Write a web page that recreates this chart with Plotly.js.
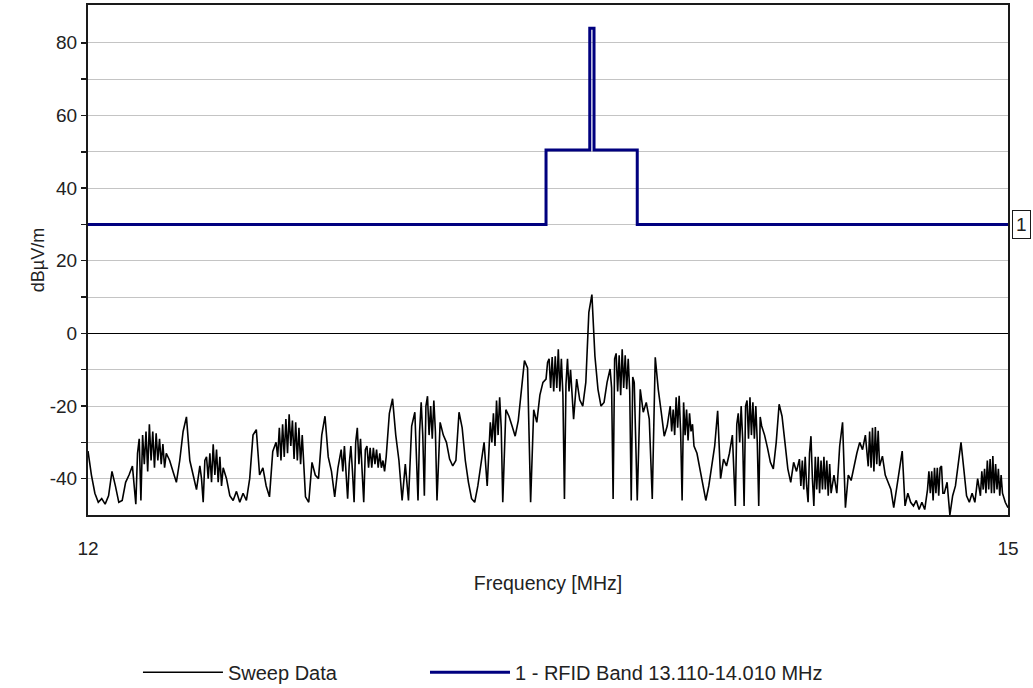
<!DOCTYPE html>
<html>
<head>
<meta charset="utf-8">
<script src="https://cdn.plot.ly/plotly-3.0.1.min.js"></script>
<style>html,body{margin:0;padding:0;background:#fff;}#chart{width:1033px;height:688px;}</style>
</head>
<body>
<div id="chart"></div>
<script>
// Sweep frequencies (MHz)
const sweepFreq = [
12.00,12.01,12.02,12.03,12.04,12.05,12.06,12.07,12.08,12.09,
12.10,12.11,12.12,12.13,12.14,12.145,12.15,12.155,12.16,12.165,12.17,12.175,12.18,12.185,12.19,12.195,
12.20,12.205,12.21,12.215,12.22,12.225,12.23,12.24,12.25,12.26,12.27,12.28,12.29,
12.30,12.31,12.32,12.33,12.335,12.34,12.345,12.35,12.355,12.36,12.365,12.37,12.375,12.38,12.385,12.39,12.395,
12.40,12.41,12.42,12.43,12.44,12.45,12.46,12.47,12.48,12.49,
12.50,12.51,12.52,12.53,12.54,12.55,12.56,12.565,12.57,12.575,12.58,12.585,12.59,12.595,
12.60,12.605,12.61,12.615,12.62,12.625,12.63,12.635,12.64,12.65,12.66,12.67,12.68,12.69,
12.70,12.71,12.72,12.73,12.74,12.75,12.76,12.765,12.77,12.775,12.78,12.785,12.79,12.795,
12.80,12.805,12.81,12.815,12.82,12.825,12.83,12.835,12.84,12.845,12.85,12.855,12.86,12.865,12.87,12.875,12.88,12.885,12.89,12.895,
12.90,12.91,12.92,12.93,12.94,12.95,12.96,12.97,12.98,12.99,
13.00,13.005,13.01,13.015,13.02,13.025,13.03,13.035,13.04,13.045,13.05,13.055,13.06,13.07,13.08,13.09,
13.10,13.11,13.12,13.13,13.14,13.15,13.16,13.17,13.18,13.19,
13.20,13.21,13.22,13.23,13.235,13.24,13.245,13.25,13.255,13.26,13.265,13.27,13.28,13.29,
13.30,13.31,13.32,13.33,13.34,13.35,13.36,13.37,13.38,13.39,
13.40,13.41,13.415,13.42,13.425,13.43,13.435,13.44,13.445,13.45,13.455,13.46,13.465,13.47,13.475,13.48,13.485,13.49,13.495,
13.50,13.51,13.52,13.53,13.54,13.55,13.56,13.57,13.58,13.59,
13.60,13.61,13.62,13.625,13.63,13.635,13.64,13.645,13.65,13.655,13.66,13.665,13.67,13.675,13.68,13.685,13.69,13.695,
13.70,13.71,13.72,13.73,13.74,13.75,13.76,13.77,13.78,13.79,
13.80,13.81,13.82,13.825,13.83,13.835,13.84,13.845,13.85,13.855,13.86,13.865,13.87,13.875,13.88,13.885,13.89,13.895,
13.90,13.91,13.92,13.93,13.94,13.95,13.96,13.97,13.98,13.99,
14.00,14.01,14.02,14.03,14.04,14.045,14.05,14.055,14.06,14.065,14.07,14.075,14.08,14.085,14.09,14.095,
14.10,14.105,14.11,14.115,14.12,14.125,14.13,14.14,14.15,14.16,14.17,14.18,14.19,
14.20,14.21,14.22,14.23,14.24,14.25,14.26,14.265,14.27,14.275,14.28,14.285,14.29,14.295,
14.30,14.305,14.31,14.315,14.32,14.325,14.33,14.335,14.34,14.345,14.35,14.355,14.36,14.365,14.37,14.38,14.39,
14.40,14.41,14.42,14.43,14.44,14.45,14.46,14.47,14.48,14.49,
14.50,14.505,14.51,14.515,14.52,14.525,14.53,14.535,14.54,14.55,14.56,14.57,14.58,14.59,
14.60,14.61,14.62,14.63,14.64,14.65,14.66,14.67,14.68,14.69,
14.70,14.71,14.715,14.72,14.725,14.73,14.735,14.74,14.745,14.75,14.755,14.76,14.765,14.77,14.78,14.79,
14.80,14.81,14.82,14.83,14.84,14.85,14.86,14.87,14.88,14.89,
14.90,14.905,14.91,14.915,14.92,14.925,14.93,14.935,14.94,14.945,14.95,14.955,14.96,14.965,14.97,14.975,14.98,14.99,15.00];

// Sweep levels (dBµV/m)
const sweepLevel = [
-32.4,-39,-44,-46.5,-45.5,-47,-44.7,-38,-42,-46.5,
-46,-41,-39,-36.5,-47,-33,-29,-46,-28,-36,-27,-38,-25,-35,-27,-37,
-27.5,-35,-29,-36,-30.5,-37,-33,-35,-38,-41,-35,-27,-23,
-35,-39,-43,-36.5,-40,-46.5,-35,-34,-40,-33,-41,-30.5,-39,-32,-41,-34,-42,
-37,-40,-44.7,-46,-43.5,-46.5,-44,-46,-40,-28,
-26.5,-39,-37,-42,-45,-32.5,-30,-34,-26,-35,-25,-34,-23.6,-33,
-22.3,-31,-24,-34.6,-24.5,-35,-26,-36,-28,-45,-46.5,-35.5,-39,-40,
-28,-22.8,-34,-38,-45,-37,-32,-38,-31,-39,-45.5,-36,-31,-38,
-46.5,-30,-26,-36,-29,-38,-46.5,-32,-31,-37,-31.5,-37,-31.5,-36,-32,-37,-33,-37,-35,-38,
-34,-22,-18,-28,-35,-46,-36,-46,-25.5,-21.7,
-46,-27,-19,-28,-44.7,-20,-17.3,-28,-20,-29,-18.5,-27,-46,-24.5,-28,-30,
-34.6,-36.5,-35,-21.7,-26,-35,-41,-45.5,-46.5,-42,
-36.6,-30,-42,-24.5,-30,-22,-31,-18.5,-28,-17.6,-26,-46.5,-21,-22.8,
-25.5,-28.3,-24,-15.4,-7.5,-9.5,-46.5,-21,-24.5,-17,
-13.5,-12.6,-8,-7,-15,-6.5,-16,-6.3,-15,-4.4,-16,-7,-17,-45.6,-14,-7,-16,-10,-17,
-23.6,-12.6,-18.3,-20,-13.5,5.8,10.7,-6.3,-15.4,-20,
-19,-13.5,-9.8,-15,-45.6,-7,-5.5,-16,-6,-17,-4.4,-15,-6,-15.4,-7,-16,-46,-12,
-13.5,-46,-15.4,-21.7,-19,-23.6,-45.6,-6.6,-15.4,-21.7,
-28.3,-25.5,-20,-27,-21,-28,-17.6,-26,-17.2,-27,-46,-19,-28,-21,-29.5,-22,-27,-25,
-31,-33,-37,-42,-46,-42,-37,-31,-21.3,-40,
-34.6,-36.5,-33,-28,-47.5,-25,-22,-30,-20,-29,-47.5,-20,-18.5,-29,-17.6,-28,
-19,-29,-20,-30,-47.5,-23,-25.5,-28,-31.5,-35.5,-37.3,-30,-19.5,
-22.8,-30,-37.3,-41,-35.5,-38,-34.6,-42,-35,-43,-34,-42,-46.5,-33,
-28.3,-40,-47.5,-34,-43,-34,-44,-35,-43,-34,-43,-35,-44.7,-36,-44,-39,-44,
-31,-24.5,-48,-39,-40.5,-36.5,-33,-30,-32,-28,
-36.6,-27,-37,-26,-38,-25.8,-36,-26.8,-36.5,-33.8,-39,-41,-43,-48,
-43,-37.5,-32.4,-47.5,-44,-46.5,-47.5,-46,-48.5,-46.5,
-48.5,-43,-38,-44,-38,-46,-37,-44,-37,-44.7,-37,-36.5,-44,-44,-41,-50,
-44.7,-42,-35.6,-30,-37.3,-44.7,-46.5,-44,-46.5,-40,
-44.7,-38,-43,-37.3,-44,-35,-43,-34.6,-44,-33.8,-44,-36,-43,-37.3,-44.7,-39,-44,-46.5,-48];

// Limit line "1 - RFID Band 13.110-14.010 MHz"
const limitFreq  = [12.0, 13.41, 13.41, 13.553, 13.553, 13.567, 13.567, 13.71, 13.71, 15.0];
const limitLevel = [30, 30, 50.5, 50.5, 84, 84, 50.5, 50.5, 30, 30];

// Axis ticks
const xTickVals = [12, 15];
const xTickText = ['12', '15'];
const yTickVals = [-40, -30, -20, -10, 0, 10, 20, 30, 40, 50, 60, 70, 80];
const yTickText = ['-40', '', '-20', '', '0', '', '20', '', '40', '', '60', '', '80'];

const FONT = 'Liberation Sans, Arial, sans-serif';
const TXT = '#222222';

const traces = [
  {
    x: sweepFreq, y: sweepLevel, type: 'scatter', mode: 'lines',
    name: 'Sweep Data', legend: 'legend',
    line: {color: '#000000', width: 1.6}
  },
  {
    x: limitFreq, y: limitLevel, type: 'scatter', mode: 'lines',
    name: '1 - RFID Band 13.110-14.010 MHz', legend: 'legend2',
    line: {color: '#00007f', width: 3}
  }
];

const legendBase = {
  orientation: 'h', xanchor: 'left',
  yref: 'container', y: 0.023, yanchor: 'middle',
  font: {family: FONT, size: 20, color: TXT},
  itemwidth: 80, bgcolor: 'rgba(0,0,0,0)'
};

const layout = {
  width: 1033, height: 688,
  margin: {l: 88, r: 25, t: 5, b: 173},
  paper_bgcolor: '#ffffff', plot_bgcolor: '#ffffff',
  font: {family: FONT, color: TXT, size: 19},
  showlegend: true,
  xaxis: {
    type: 'log',
    range: [Math.log10(12), Math.log10(15)],
    tickmode: 'array', tickvals: xTickVals, ticktext: xTickText,
    ticks: '', showgrid: false, zeroline: false,
    showline: true, mirror: true, linecolor: '#1a1a1a', linewidth: 2,
    ticklabelstandoff: 15,
    tickfont: {family: FONT, size: 19, color: TXT},
    title: {text: 'Frequency [MHz]', font: {family: FONT, size: 19.5, color: TXT}, standoff: 19}
  },
  yaxis: {
    range: [-50, 90.4],
    tickmode: 'array', tickvals: yTickVals, ticktext: yTickText,
    ticks: 'outside', ticklen: 5, tickcolor: '#1a1a1a', tickwidth: 1.5,
    showgrid: true, gridcolor: '#c4c4c4', gridwidth: 1,
    zeroline: true, zerolinecolor: '#000000', zerolinewidth: 1.5,
    showline: true, mirror: true, linecolor: '#1a1a1a', linewidth: 2,
    tickfont: {family: FONT, size: 19, color: TXT},
    title: {text: 'dBµV/m', font: {family: FONT, size: 18, color: TXT}, standoff: 0}
  },
  legend: Object.assign({}, legendBase, {x: 0.0543}),
  legend2: Object.assign({}, legendBase, {x: 0.3663}),
  annotations: [{
    xref: 'paper', x: 1, xanchor: 'left', xshift: 4,
    yref: 'y', y: limitLevel[limitLevel.length - 1], yanchor: 'middle',
    text: '1', showarrow: false,
    font: {family: FONT, size: 19, color: TXT},
    bordercolor: '#1a1a1a', borderwidth: 1, borderpad: 3, bgcolor: '#ffffff'
  }]
};

Plotly.newPlot('chart', traces, layout, {displayModeBar: false, staticPlot: true});
</script>
</body>
</html>
